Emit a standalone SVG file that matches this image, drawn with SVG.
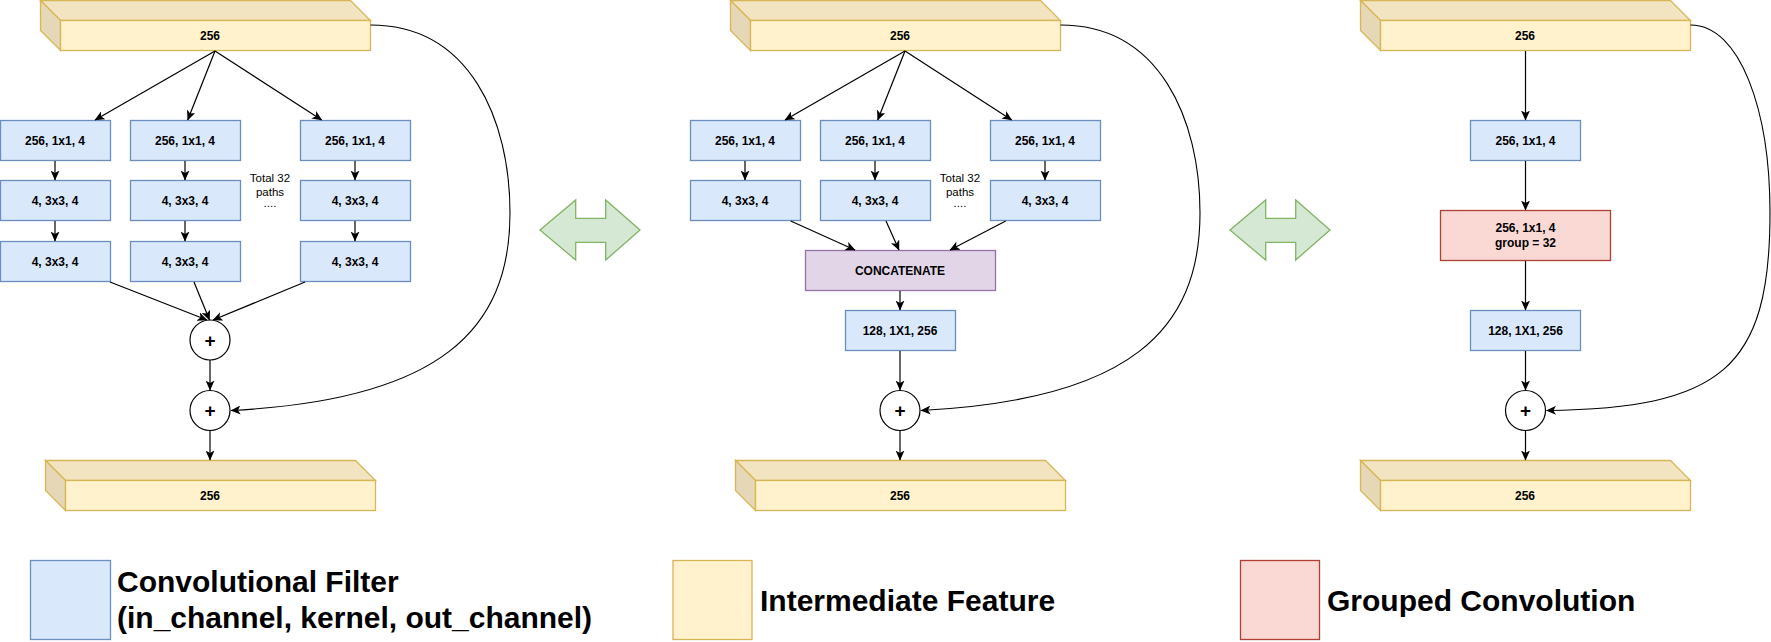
<svg xmlns="http://www.w3.org/2000/svg" width="1771" height="642" viewBox="0 0 1771 642">
<style>
text{font-family:"Liberation Sans",Arial,Helvetica,sans-serif;fill:#000}
.lbl{font-size:12px;font-weight:bold;text-anchor:middle}
.note{font-size:11.5px;text-anchor:middle}
.plus{font-size:19px;font-weight:bold;text-anchor:middle}
.leg{font-size:30px;font-weight:bold}
.blue{fill:#dae8fc;stroke:#6c8ebf;stroke-width:1.3}
.red{fill:#fad9d5;stroke:#ae4132;stroke-width:1.3}
.purple{fill:#e1d5e7;stroke:#9673a6;stroke-width:1.3}
.front{fill:#fff2cc;stroke:#d6b656;stroke-width:1.3}
.topf{fill:#f2e4c1;stroke:#d6b656;stroke-width:1.3}
.side{fill:#e6d8b6;stroke:#d6b656;stroke-width:1.3}
.circ{fill:#fff;stroke:#000;stroke-width:1.2}
.green{fill:#d5e8d4;stroke:#82b366;stroke-width:1.3}
.edge{fill:none;stroke:#000;stroke-width:1.2;marker-end:url(#arr)}
.curve{fill:none;stroke:#000;stroke-width:1.1;marker-end:url(#arr)}
</style>
<defs>
<marker id="arr" markerUnits="userSpaceOnUse" markerWidth="10" markerHeight="9" refX="9.5" refY="4.5" orient="auto" viewBox="0 0 10 9">
<path d="M0,0 L10,4.5 L0,9 L2.6,4.5 Z" fill="#000"/>
</marker>
</defs>

<!-- LEFT SECTION -->
<g id="l-top">
<path class="topf" d="M40.5,0.5 L350.5,0.5 L370.5,20.5 L60.5,20.5 Z"/>
<path class="side" d="M40.5,0.5 L60.5,20.5 L60.5,50.5 L40.5,30.5 Z"/>
<rect class="front" x="60.5" y="20.5" width="310" height="30"/>
<text class="lbl" x="210" y="39.5">256</text>
</g>
<g id="l-a1"><rect class="blue" x="0.5" y="120.5" width="110" height="40"/><text class="lbl" x="55" y="145">256, 1x1, 4</text></g>
<g id="l-a2"><rect class="blue" x="130.5" y="120.5" width="110" height="40"/><text class="lbl" x="185" y="145">256, 1x1, 4</text></g>
<g id="l-a3"><rect class="blue" x="300.5" y="120.5" width="110" height="40"/><text class="lbl" x="355" y="145">256, 1x1, 4</text></g>
<g id="l-b1"><rect class="blue" x="0.5" y="180.5" width="110" height="40"/><text class="lbl" x="55" y="205">4, 3x3, 4</text></g>
<g id="l-b2"><rect class="blue" x="130.5" y="180.5" width="110" height="40"/><text class="lbl" x="185" y="205">4, 3x3, 4</text></g>
<g id="l-b3"><rect class="blue" x="300.5" y="180.5" width="110" height="40"/><text class="lbl" x="355" y="205">4, 3x3, 4</text></g>
<g id="l-c1"><rect class="blue" x="0.5" y="241.5" width="110" height="40"/><text class="lbl" x="55" y="266">4, 3x3, 4</text></g>
<g id="l-c2"><rect class="blue" x="130.5" y="241.5" width="110" height="40"/><text class="lbl" x="185" y="266">4, 3x3, 4</text></g>
<g id="l-c3"><rect class="blue" x="300.5" y="241.5" width="110" height="40"/><text class="lbl" x="355" y="266">4, 3x3, 4</text></g>
<g id="l-note"><text class="note" x="270" y="182">Total 32</text><text class="note" x="270" y="196">paths</text><text class="note" x="270" y="207">....</text></g>
<g id="l-sum1"><circle class="circ" cx="210" cy="340" r="20"/><text class="plus" x="210" y="346.5">+</text></g>
<g id="l-sum2"><circle class="circ" cx="210" cy="410.5" r="20"/><text class="plus" x="210" y="417">+</text></g>
<g id="l-bot">
<path class="topf" d="M45.5,460.5 L355.5,460.5 L375.5,480.5 L65.5,480.5 Z"/>
<path class="side" d="M45.5,460.5 L65.5,480.5 L65.5,510.5 L45.5,490.5 Z"/>
<rect class="front" x="65.5" y="480.5" width="310" height="30"/>
<text class="lbl" x="210" y="499.5">256</text>
</g>

<!-- MIDDLE SECTION -->
<g id="m-top">
<path class="topf" d="M730.5,0.5 L1040.5,0.5 L1060.5,20.5 L750.5,20.5 Z"/>
<path class="side" d="M730.5,0.5 L750.5,20.5 L750.5,50.5 L730.5,30.5 Z"/>
<rect class="front" x="750.5" y="20.5" width="310" height="30"/>
<text class="lbl" x="900" y="39.5">256</text>
</g>
<g id="m-a1"><rect class="blue" x="690.5" y="120.5" width="110" height="40"/><text class="lbl" x="745" y="145">256, 1x1, 4</text></g>
<g id="m-a2"><rect class="blue" x="820.5" y="120.5" width="110" height="40"/><text class="lbl" x="875" y="145">256, 1x1, 4</text></g>
<g id="m-a3"><rect class="blue" x="990.5" y="120.5" width="110" height="40"/><text class="lbl" x="1045" y="145">256, 1x1, 4</text></g>
<g id="m-b1"><rect class="blue" x="690.5" y="180.5" width="110" height="40"/><text class="lbl" x="745" y="205">4, 3x3, 4</text></g>
<g id="m-b2"><rect class="blue" x="820.5" y="180.5" width="110" height="40"/><text class="lbl" x="875" y="205">4, 3x3, 4</text></g>
<g id="m-b3"><rect class="blue" x="990.5" y="180.5" width="110" height="40"/><text class="lbl" x="1045" y="205">4, 3x3, 4</text></g>
<g id="m-note"><text class="note" x="960" y="182">Total 32</text><text class="note" x="960" y="196">paths</text><text class="note" x="960" y="207">....</text></g>
<g id="m-concat"><rect class="purple" x="805.5" y="250.5" width="190" height="40"/><text class="lbl" x="900" y="275">CONCATENATE</text></g>
<g id="m-conv"><rect class="blue" x="845.5" y="310.5" width="110" height="40"/><text class="lbl" x="900" y="335">128, 1X1, 256</text></g>
<g id="m-sum"><circle class="circ" cx="900" cy="410.5" r="20"/><text class="plus" x="900" y="417">+</text></g>
<g id="m-bot">
<path class="topf" d="M735.5,460.5 L1045.5,460.5 L1065.5,480.5 L755.5,480.5 Z"/>
<path class="side" d="M735.5,460.5 L755.5,480.5 L755.5,510.5 L735.5,490.5 Z"/>
<rect class="front" x="755.5" y="480.5" width="310" height="30"/>
<text class="lbl" x="900" y="499.5">256</text>
</g>

<!-- RIGHT SECTION -->
<g id="r-top">
<path class="topf" d="M1360.5,0.5 L1670.5,0.5 L1690.5,20.5 L1380.5,20.5 Z"/>
<path class="side" d="M1360.5,0.5 L1380.5,20.5 L1380.5,50.5 L1360.5,30.5 Z"/>
<rect class="front" x="1380.5" y="20.5" width="310" height="30"/>
<text class="lbl" x="1525" y="39.5">256</text>
</g>
<g id="r-a"><rect class="blue" x="1470.5" y="120.5" width="110" height="40"/><text class="lbl" x="1525.5" y="145">256, 1x1, 4</text></g>
<g id="r-group"><rect class="red" x="1440.5" y="210.5" width="170" height="50"/><text class="lbl" x="1525.5" y="232">256, 1x1, 4</text><text class="lbl" x="1525.5" y="247">group = 32</text></g>
<g id="r-conv"><rect class="blue" x="1470.5" y="310.5" width="110" height="40"/><text class="lbl" x="1525.5" y="335">128, 1X1, 256</text></g>
<g id="r-sum"><circle class="circ" cx="1525.5" cy="410.5" r="20"/><text class="plus" x="1525.5" y="417">+</text></g>
<g id="r-bot">
<path class="topf" d="M1360.5,460.5 L1670.5,460.5 L1690.5,480.5 L1380.5,480.5 Z"/>
<path class="side" d="M1360.5,460.5 L1380.5,480.5 L1380.5,510.5 L1360.5,490.5 Z"/>
<rect class="front" x="1380.5" y="480.5" width="310" height="30"/>
<text class="lbl" x="1525" y="499.5">256</text>
</g>

<!-- EQUIVALENCE ARROWS -->
<g id="equiv1"><polygon class="green" points="540,230 575.7,200 575.7,218.3 605.7,218.3 605.7,200 640,230 605.7,260 605.7,242.3 575.7,242.3 575.7,260"/></g>
<g id="equiv2"><polygon class="green" points="1230,230 1265.7,200 1265.7,218.3 1295.7,218.3 1295.7,200 1330,230 1295.7,260 1295.7,242.3 1265.7,242.3 1265.7,260"/></g>

<!-- CONNECTORS -->
<g id="connectors">
<path class="edge" d="M215,51 L95,120"/>
<path class="edge" d="M215,51 L187.7,120"/>
<path class="edge" d="M215,51 L321.7,120"/>
<path class="edge" d="M55,161 L55,180"/>
<path class="edge" d="M185,161 L185,180"/>
<path class="edge" d="M355,161 L355,180"/>
<path class="edge" d="M55,221 L55,241"/>
<path class="edge" d="M185,221 L185,241"/>
<path class="edge" d="M355,221 L355,241"/>
<path class="edge" d="M110,282 L207,320"/>
<path class="edge" d="M194,282 L209.5,320"/>
<path class="edge" d="M305,282 L213,320"/>
<path class="edge" d="M210,360 L210,390"/>
<path class="edge" d="M210,431 L210,460"/>
<path class="curve" d="M370.5,25 C470,25 510,120 510,213 C510,330 440,400 231,410.5"/>

<path class="edge" d="M905,51 L785,120"/>
<path class="edge" d="M905,51 L877.7,120"/>
<path class="edge" d="M905,51 L1011.7,120"/>
<path class="edge" d="M745,161 L745,180"/>
<path class="edge" d="M875,161 L875,180"/>
<path class="edge" d="M1045,161 L1045,180"/>
<path class="edge" d="M790.7,221 L855,250"/>
<path class="edge" d="M886,221 L899,250"/>
<path class="edge" d="M1005.7,221 L950,250"/>
<path class="edge" d="M900,291 L900,310"/>
<path class="edge" d="M900,351 L900,390"/>
<path class="edge" d="M900,431 L900,460"/>
<path class="curve" d="M1060.5,25 C1160,25 1200,120 1200,213 C1200,330 1130,400 921,410.5"/>

<path class="edge" d="M1525.5,51 L1525.5,120"/>
<path class="edge" d="M1525.5,161 L1525.5,210"/>
<path class="edge" d="M1525.5,261 L1525.5,310"/>
<path class="edge" d="M1525.5,351 L1525.5,390"/>
<path class="edge" d="M1525.5,431 L1525.5,460"/>
<path class="curve" d="M1690.5,25 C1740,25 1770,110 1770,213 C1770,370 1720,408 1546.5,410.5"/>
</g>

<!-- LEGEND -->
<g id="legend-conv"><rect class="blue" x="30.5" y="560.5" width="80" height="79"/><text class="leg" x="117" y="592">Convolutional Filter</text><text class="leg" x="117" y="628">(in_channel, kernel, out_channel)</text></g>
<g id="legend-feat"><rect class="front" x="673" y="560.5" width="79" height="79"/><text class="leg" x="760" y="611">Intermediate Feature</text></g>
<g id="legend-group"><rect class="red" x="1240.5" y="560.5" width="79" height="79"/><text class="leg" x="1327" y="611">Grouped Convolution</text></g>
</svg>
